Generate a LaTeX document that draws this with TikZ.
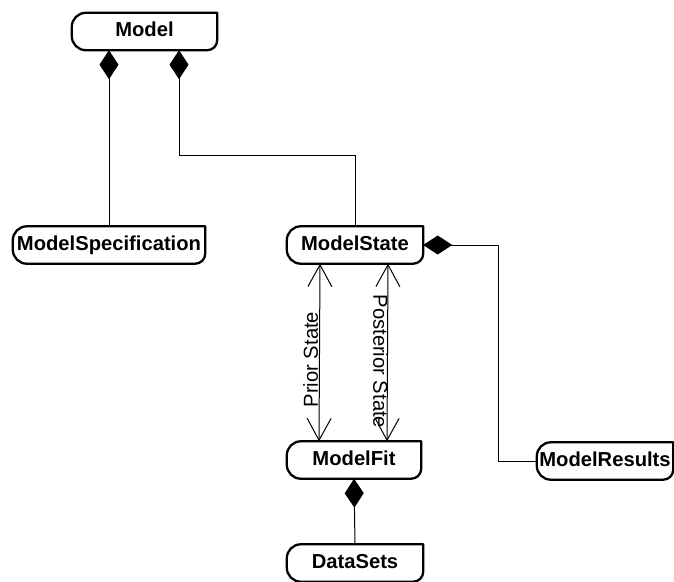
\documentclass[tikz,border=0pt]{standalone}
\usepackage{fontspec}
\setmainfont{Liberation Sans}
\usetikzlibrary{arrows.meta}

\tikzset{
  clase/.style={minimum height=37pt, inner sep=0pt, text height=14pt, text depth=4pt,
    font=\bfseries\fontsize{20.2}{24}\selectfont},
  comp/.style={line width=1pt, {Diamond[length=29pt,width=19pt]}-},
  flecha/.style={line width=1pt,
    {Straight Barb[length=22pt,width=24pt,line width=1pt]}-{Straight Barb[length=22pt,width=24pt,line width=1pt]}},
  etiqueta/.style={font=\fontsize{20.2}{24}\selectfont, inner sep=1pt},
  borde/.style={line width=2.3pt, line join=round}
}
% marco de la clase: esquina recta arriba a la derecha
\newcommand{\marco}[1]{%
  \draw[borde] (#1.north east) -- ([yshift=10pt]#1.south east) arc (0:-90:10pt)
    -- ([xshift=14pt]#1.south west) arc (270:180:14pt)
    -- ([yshift=-14pt]#1.north west) arc (180:90:14pt) -- cycle;}

\begin{document}
\begin{tikzpicture}[x=1pt, y=-1pt] % unidades en pixeles

    \useasboundingbox (0,0) rectangle (674,581);

    % Clases
    \node[clase, minimum width=145pt] (Model) at (144.5,31.5) {Model};
    \node[clase, minimum width=192pt] (ModelSpecification) at (109,245) {ModelSpecification};
    \node[clase, minimum width=136pt] (ModelState) at (355,245) {ModelState};
    \node[clase, minimum width=134pt] (ModelFit) at (354,460) {ModelFit};
    \node[clase, minimum width=136pt] (ModelResults) at (605,461) {ModelResults};
    \node[clase, minimum width=136pt] (DataSets) at (355,563) {DataSets};

    \foreach \n in {Model,ModelSpecification,ModelState,ModelFit,ModelResults,DataSets} {
        \marco{\n}
    }

    % Composiciones
    \draw[comp] (Model.south -| ModelSpecification.north) -- (ModelSpecification.north);
    \draw[comp] ([xshift=34.5pt]Model.south) -- ++(0,105) -| (ModelState.north);
    \draw[comp] (ModelState.east) -- ++(75,0) |- (ModelResults.west);
    \draw[comp] (ModelFit.south) -- (DataSets.north);

    % Estados
    \draw[flecha] ([xshift=-35pt]ModelState.south) --
        node[etiqueta, rotate=90, anchor=south, pos=0.54] {Prior State}
        ([xshift=-35pt]ModelFit.north);
    \draw[flecha] ([xshift=33pt]ModelState.south) --
        node[etiqueta, rotate=-90, anchor=north, pos=0.55, inner sep=-1pt] {Posterior State}
        ([xshift=33pt]ModelFit.north);

\end{tikzpicture}
\end{document}
